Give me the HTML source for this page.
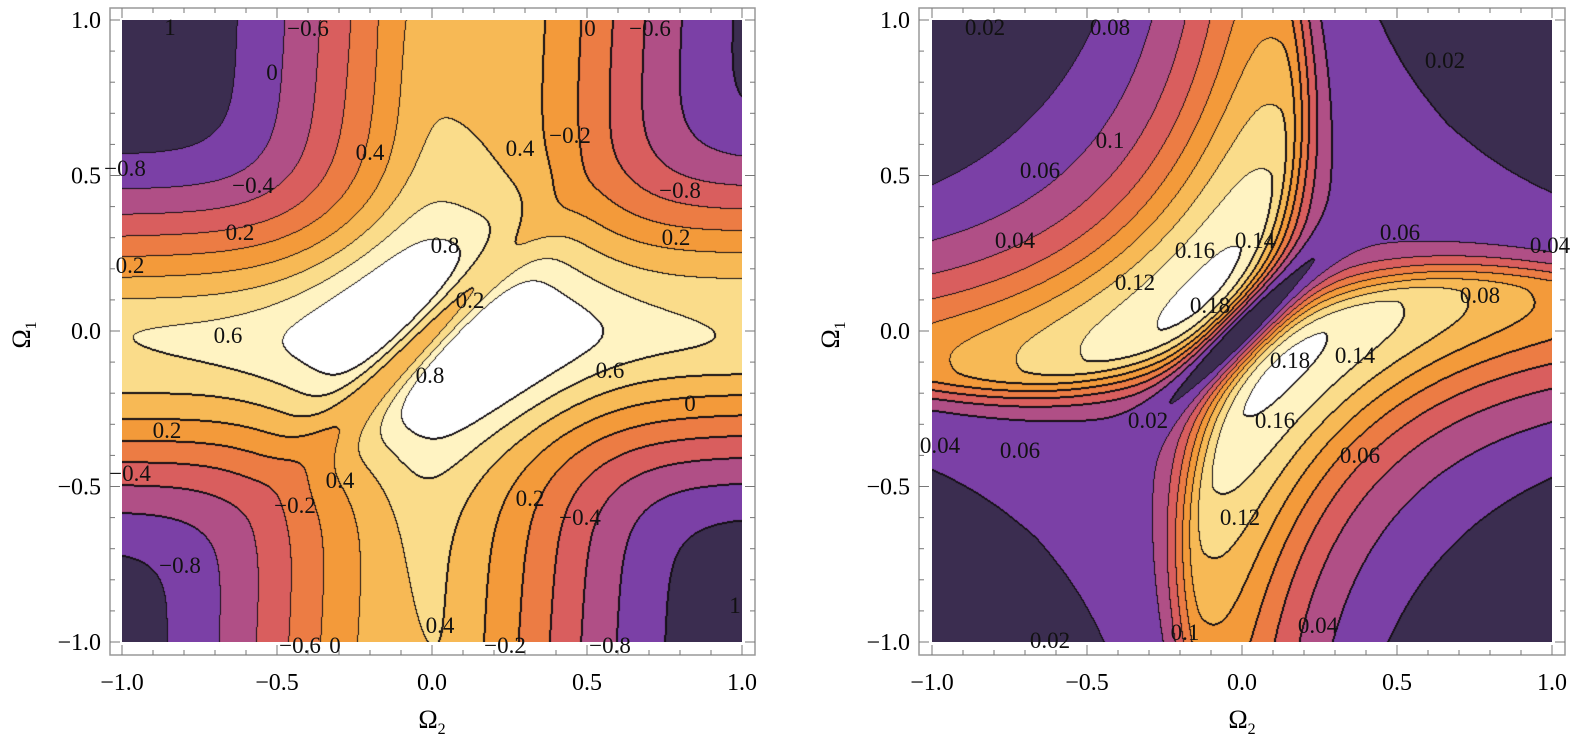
<!DOCTYPE html>
<html><head><meta charset="utf-8"><style>
html,body{margin:0;padding:0;background:#fff;}
#wrap{position:relative;width:1575px;height:747px;overflow:hidden;background:#fff;}
canvas{position:absolute;}
svg{position:absolute;left:0;top:0;}
</style></head><body><div id="wrap">
<canvas id="cL" width="620" height="622" style="left:122px;top:20px"></canvas>
<canvas id="cR" width="620" height="622" style="left:932px;top:20px"></canvas>
<svg id="sv" width="1575" height="747" xmlns="http://www.w3.org/2000/svg" font-family="Liberation Serif, serif"></svg>
</div>
<script>
const pal=['#262a2a','#3b2d50','#7b40a6','#b04f86','#d95e5e','#ec7c44','#f39a3a','#f7b955','#fadc8a','#fff3c2','#ffffff'];
function hex(c){return [parseInt(c.substr(1,2),16),parseInt(c.substr(3,2),16),parseInt(c.substr(5,2),16)];}
const P=pal.map(hex);
const S2=Math.SQRT2;
function fL(x,y){
  const x0=0.06+0.09*y, y0=-0.015+0.035*x;
  const R1=1.55*Math.exp(-(y-y0)*(y-y0)/0.2), R2=1.35*Math.exp(-(x-x0)*(x-x0)/0.34);
  const R=Math.sqrt(R1*R1+R2*R2);
  let f=-1+R+0.4*x*y*Math.exp(-(x*x+y*y)/0.6);
  const t=(x-y)/S2,s=(x+y)/S2+0.03;
  f+=0.1*Math.exp(-s*s/0.3-t*t/0.1);
  const t0=0.2+1.2*s*s, Ab=0.15*Math.exp(-s*s/0.5);
  f+=Ab*(Math.exp(-(t+t0)*(t+t0)/0.03)+Math.exp(-(t-t0)*(t-t0)/0.03));
  f-=0.9*Math.exp(-t*t/0.006-s*s/0.15);
  return f;
}
function fR(x,y){
  const s=(x+y)/S2,t=(x-y)/S2;
  const base=0.035-0.075*x*x*y*y;
  const t0=0.17+0.7*s*s, A=0.15*Math.exp(-s*s/1.0);
  function g(d,inner){return Math.exp(-d*d/(inner?0.02:0.14));}
  let lobe=0;
  const d1=t+t0; lobe+=A*g(d1,d1>0);
  const d2=t-t0; lobe+=A*g(d2,d2<0);
  return (base+lobe)*(1-Math.exp(-t*t/0.004-s*s/0.2));
}
function draw(id,f,lv0,step,off,minb){
  const c=document.getElementById(id),ctx=c.getContext('2d');
  const W=c.width,H=c.height;const img=ctx.createImageData(W,H);
  const B=new Int8Array(W*H);
  for(let j=0;j<H;j++)for(let i=0;i<W;i++){
    const x=-1+2*i/(W-1),y=1-2*j/(H-1);
    let b=Math.floor((f(x,y)-lv0)/step)+off;if(b<minb)b=minb;if(b>10)b=10;B[j*W+i]=b;}
  for(let j=0;j<H;j++)for(let i=0;i<W;i++){
    const k=j*W+i,b=B[k];let col=P[b];
    if((i>0&&B[k-1]!==b)||(j>0&&B[k-W]!==b)||(i<W-1&&B[k+1]!==b&&B[k+1]<b)||(j<H-1&&B[k+W]!==b&&B[k+W]<b))col=[20,15,20];
    img.data[4*k]=col[0];img.data[4*k+1]=col[1];img.data[4*k+2]=col[2];img.data[4*k+3]=255;}
  ctx.putImageData(img,0,0);
}
draw('cL',fL,-1.0,0.2,1,0);
draw('cR',fR,0.02,0.02,2,1);
const sv=document.getElementById('sv');let h='';
function frame(dx,fx0,fx1){
  h+=`<rect x="${fx0}" y="8" width="${fx1-fx0}" height="647" fill="none" stroke="#999" stroke-width="1.5"/>`;
  for(let k=-10;k<=10;k++){const v=k/10;const X=dx+(v+1)*310,Y=20+(1-v)*311;const L=(k%5===0)?10:5;
    h+=`<line x1="${X}" y1="655" x2="${X}" y2="${655-L}" stroke="#777"/><line x1="${X}" y1="8" x2="${X}" y2="${8+L}" stroke="#777"/>`;
    h+=`<line x1="${fx0}" y1="${Y}" x2="${fx0+L}" y2="${Y}" stroke="#777"/><line x1="${fx1}" y1="${Y}" x2="${fx1-L}" y2="${Y}" stroke="#777"/>`;}
  const labs=['\u22121.0','\u22120.5','0.0','0.5','1.0'];
  for(let k=0;k<5;k++){const v=-1+k*0.5;const X=dx+(v+1)*310,Y=20+(1-v)*311;
    h+=`<text x="${X}" y="690" font-size="24" text-anchor="middle">${labs[k]}</text>`;
    h+=`<text x="${fx0-9}" y="${Y+8}" font-size="24" text-anchor="end">${labs[k]}</text>`;}
  h+=`<text x="${dx+310}" y="728" font-size="26" text-anchor="middle">\u03a9<tspan font-size="16" dy="6">2</tspan></text>`;
  h+=`<text transform="translate(${fx0-80},335) rotate(-90)" font-size="26" text-anchor="middle">\u03a9<tspan font-size="16" dy="6">1</tspan></text>`;
}
frame(122,110,755);frame(932,919,1565);
const L1=[[170,27,'1'],[308,28,'\u22120.6'],[590,28,'0'],[650,28,'\u22120.6'],[125,168,'\u22120.8'],[272,72,'0'],[370,152,'0.4'],[253,185,'\u22120.4'],[520,148,'0.4'],[570,135,'\u22120.2'],[680,190,'\u22120.8'],[240,232,'0.2'],[445,245,'0.8'],[676,237,'0.2'],[130,265,'0.2'],[470,300,'0.2'],[228,335,'0.6'],[430,375,'0.8'],[610,370,'0.6'],[690,403,'0'],[167,430,'0.2'],[130,473,'\u22120.4'],[340,480,'0.4'],[295,505,'\u22120.2'],[530,498,'0.2'],[580,517,'\u22120.4'],[180,565,'\u22120.8'],[440,625,'0.4'],[300,645,'\u22120.6'],[335,645,'0'],[505,645,'\u22120.2'],[610,645,'\u22120.8'],[735,605,'1']];
const L2=[[985,27,'0.02'],[1110,27,'0.08'],[1445,60,'0.02'],[1110,140,'0.1'],[1040,170,'0.06'],[1015,240,'0.04'],[1400,232,'0.06'],[1135,282,'0.12'],[1195,250,'0.16'],[1255,240,'0.14'],[1210,305,'0.18'],[1480,295,'0.08'],[1290,360,'0.18'],[1355,355,'0.14'],[1148,420,'0.02'],[1275,420,'0.16'],[940,445,'0.04'],[1020,450,'0.06'],[1360,455,'0.06'],[1240,517,'0.12'],[1185,632,'0.1'],[1318,625,'0.04'],[1050,640,'0.02'],[1550,245,'0.04']];
for(const l of L1.concat(L2))h+=`<text x="${l[0]}" y="${l[1]+8}" font-size="23" text-anchor="middle" fill="#111">${l[2]}</text>`;
sv.innerHTML=h;
</script></body></html>
